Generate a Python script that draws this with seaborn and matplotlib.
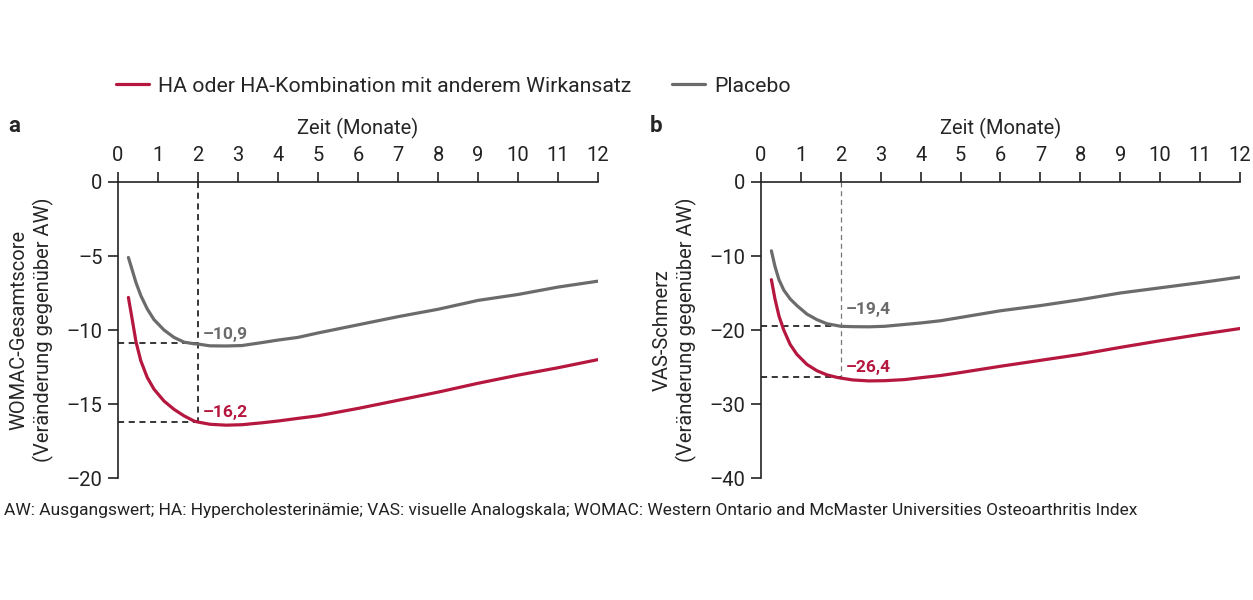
import pandas as pd
import matplotlib.pyplot as plt
import seaborn as sns
from matplotlib.ticker import FuncFormatter

months = [0.26, 0.35, 0.45, 0.57, 0.73, 0.9, 1.15, 1.4, 1.65, 1.9, 2.0, 2.3, 2.7, 3.1, 3.6,
          4.0, 4.5, 5.0, 6.0, 7.0, 8.0, 9.0, 10.0, 11.0, 12.0]

# panel a: WOMAC total score
womac_ha = [-7.8, -9.2, -10.8, -12.08, -13.2, -14.0, -14.8, -15.36, -15.8, -16.15, -16.22, -16.37, -16.43,
            -16.4, -16.27, -16.15, -15.97, -15.8, -15.3, -14.75, -14.2, -13.6, -13.05, -12.55, -12.0]
womac_placebo = [-5.1, -5.9, -6.8, -7.67, -8.57, -9.3, -10.0, -10.5, -10.82, -10.93, -10.95, -11.07, -11.08,
                 -11.05, -10.85, -10.68, -10.5, -10.2, -9.65, -9.1, -8.6, -8.0, -7.6, -7.1, -6.7]

# panel b: VAS pain
vas_ha = [-13.2, -15.8, -18.1, -20.0, -21.95, -23.3, -24.65, -25.5, -26.06, -26.4, -26.5, -26.75, -26.88,
          -26.85, -26.7, -26.45, -26.15, -25.75, -24.9, -24.1, -23.3, -22.35, -21.45, -20.6, -19.8]
vas_placebo = [-9.3, -11.4, -13.2, -14.6, -15.8, -16.7, -17.85, -18.6, -19.15, -19.4, -19.5, -19.55, -19.57,
               -19.5, -19.25, -19.05, -18.75, -18.3, -17.4, -16.7, -15.9, -15.0, -14.3, -13.6, -12.85]

# values at month 2 that are marked with dashed lines
mark_month = 2
womac_marks = [-16.2, -10.9]
vas_marks = [-26.4, -19.4]
womac_mark_labels = ['\u201316,2', '\u201310,9']
vas_mark_labels = ['\u201326,4', '\u201319,4']

group_names = ['HA oder HA-Kombination mit anderem Wirkansatz', 'Placebo']
red = '#b5173f'
gray = '#6b6b6b'
palette = {group_names[0]: red, group_names[1]: gray}

df_a = pd.DataFrame({'Monat': months * 2,
                     'Wert': womac_ha + womac_placebo,
                     'Gruppe': [group_names[0]] * len(months) + [group_names[1]] * len(months)})
df_b = pd.DataFrame({'Monat': months * 2,
                     'Wert': vas_ha + vas_placebo,
                     'Gruppe': [group_names[0]] * len(months) + [group_names[1]] * len(months)})

sns.set_style('ticks')
plt.rcParams['font.family'] = ['Roboto', 'DejaVu Sans']

fig = plt.figure(figsize=(12.53, 6), dpi=100)
ax_a = fig.add_axes([118 / 1253, 1 - 478 / 600, 480 / 1253, 296 / 600])
ax_b = fig.add_axes([761 / 1253, 1 - 478 / 600, 479 / 1253, 296 / 600])

dash_fmt = FuncFormatter(lambda v, pos: ('%d' % v).replace('-', '\u2013'))

# axis, data, y range, y ticks, y label, marked values, their labels, label offsets, vertical dash colour
panels = [
    (ax_a, df_a, (-20, 0), [0, -5, -10, -15, -20], 'WOMAC-Gesamtscore\n(Veränderung gegenüber AW)',
     womac_marks, womac_mark_labels, [0.3, 0.3], 'black'),
    (ax_b, df_b, (-40, 0), [0, -10, -20, -30, -40], 'VAS-Schmerz\n(Veränderung gegenüber AW)',
     vas_marks, vas_mark_labels, [0.76, 1.58], '#777777'),
]

for ax, data, ylim, yticks, ylabel, marks, mark_labels, offs, vcol in panels:
    sns.lineplot(data=data, x='Monat', y='Wert', hue='Gruppe', palette=palette,
                 hue_order=group_names[::-1], linewidth=2.3, ax=ax, legend=False)
    ax.set_xlim(0, 12)
    ax.set_ylim(*ylim)
    ax.set_xticks(range(0, 13))
    ax.set_yticks(yticks)
    ax.yaxis.set_major_formatter(dash_fmt)
    ax.xaxis.tick_top()
    ax.xaxis.set_label_position('top')
    ax.set_xlabel('Zeit (Monate)', fontsize=14.5, labelpad=9)
    ax.set_ylabel(ylabel, fontsize=14.5, labelpad=9, linespacing=1.3)
    ax.spines['bottom'].set_visible(False)
    ax.spines['right'].set_visible(False)
    ax.spines['top'].set_visible(True)
    for s in ['top', 'left']:
        ax.spines[s].set_linewidth(1.2)
        ax.spines[s].set_color('#222222')
    ax.tick_params(axis='both', direction='out', length=7, width=1.2, color='#222222',
                   labelsize=14.5, labelcolor='#222222')
    ax.tick_params(axis='x', pad=5)
    ax.tick_params(axis='y', pad=4)

    # dashed guide lines at month 2
    ax.plot([mark_month, mark_month], [0, min(marks)], color=vcol, linestyle=(0, (4, 3)),
            linewidth=1.1 if vcol == 'black' else 0.9, zorder=1)
    for m in marks:
        ax.plot([0, mark_month], [m, m], color='black', linestyle=(0, (4, 3)), linewidth=1.1, zorder=1)
    for m, lab, c, o in zip(marks, mark_labels, [red, gray], offs):
        ax.text(mark_month + 0.12, m + o, lab, color=c, fontsize=12.5, fontweight='semibold',
                ha='left', va='baseline')

fig.text(8 / 1253, 1 - 126 / 600, 'a', fontsize=16, fontweight='bold', ha='left', va='center')
fig.text(650 / 1253, 1 - 126 / 600, 'b', fontsize=16, fontweight='bold', ha='left', va='center')

handles = [plt.Line2D([], [], color=red, linewidth=2.3), plt.Line2D([], [], color=gray, linewidth=2.3)]
fig.legend(handles, group_names, loc='center left', bbox_to_anchor=(116 / 1253, 1 - 86 / 600),
           ncol=2, frameon=False, fontsize=15.3, handlelength=1.55, handletextpad=0.45,
           columnspacing=1.9, borderaxespad=0, borderpad=0)

fig.text(4 / 1253, 1 - 511 / 600,
         'AW: Ausgangswert; HA: Hypercholesterinämie; VAS: visuelle Analogskala; '
         'WOMAC: Western Ontario and McMaster Universities Osteoarthritis Index',
         fontsize=12.55, ha='left', va='center', color='#222222')

fig.savefig('out.png', dpi=100, facecolor='white')
